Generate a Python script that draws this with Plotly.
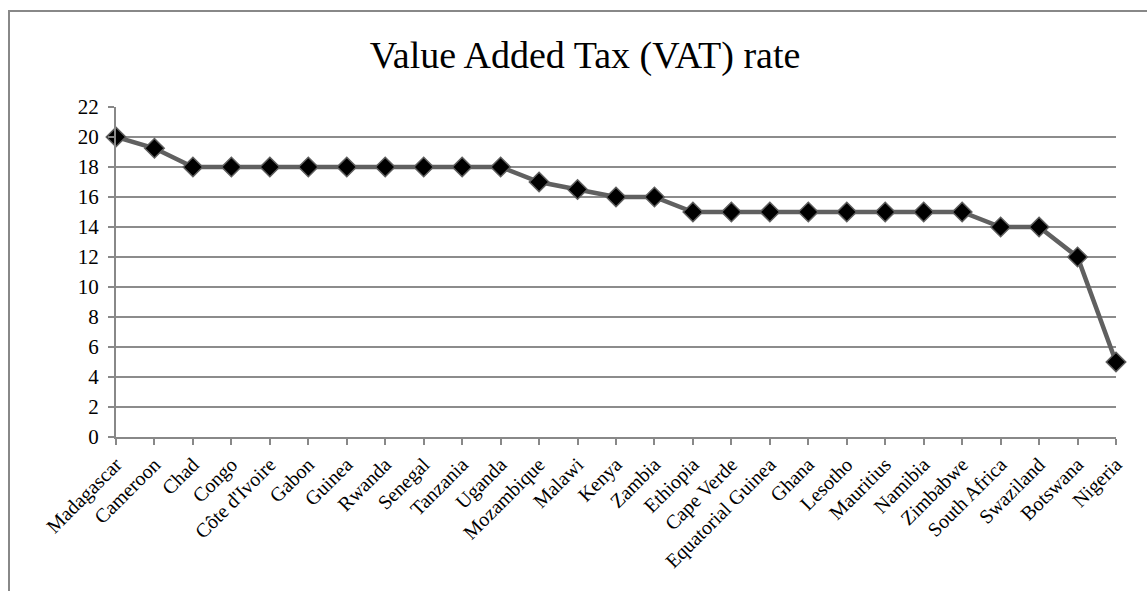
import plotly.graph_objects as go

countries = ["Madagascar", "Cameroon", "Chad", "Congo", "Côte d'Ivoire", "Gabon", "Guinea",
             "Rwanda", "Senegal", "Tanzania", "Uganda", "Mozambique", "Malawi", "Kenya",
             "Zambia", "Ethiopia", "Cape Verde", "Equatorial Guinea", "Ghana", "Lesotho",
             "Mauritius", "Namibia", "Zimbabwe", "South Africa", "Swaziland", "Botswana", "Nigeria"]
vat = [20, 19.25, 18, 18, 18, 18, 18, 18, 18, 18, 18, 17, 16.5, 16, 16, 15, 15, 15, 15, 15,
       15, 15, 15, 14, 14, 12, 5]
y_ticks = list(range(0, 23, 2))

W, H = 1147, 591
L, R, T, B = 116, 31, 107, 154
pw, ph = W - L - R, H - T - B

fig = go.Figure()
fig.add_trace(go.Scatter(
    x=list(range(len(countries))), y=vat, mode="lines+markers",
    line=dict(color="#606060", width=4.5),
    marker=dict(symbol="diamond", size=15, color="black", line=dict(color="#606060", width=1.5)),
    cliponaxis=False, hoverinfo="skip"))

font = "Liberation Serif"
fig.update_layout(
    width=W, height=H, margin=dict(l=L, r=R, t=T, b=B),
    paper_bgcolor="white", plot_bgcolor="white", showlegend=False,
    font=dict(family=font, size=20, color="black"),
    title=dict(text="Value Added Tax (VAT) rate", x=585 / W, xanchor="center",
               y=1 - 55 / H, yanchor="middle", font=dict(family=font, size=38, color="black")),
    xaxis=dict(range=[0, len(countries) - 1], tickmode="array",
               tickvals=list(range(len(countries))), ticktext=countries, tickangle=-45,
               showgrid=False, showline=True, linecolor="#888888", linewidth=2,
               ticks="outside", ticklen=6, tickcolor="#888888", tickwidth=2,
               tickfont=dict(family=font, size=20, color="black"), zeroline=False),
    yaxis=dict(range=[0, 22], tickmode="array", tickvals=y_ticks,
               showgrid=True, gridcolor="#8c8c8c", gridwidth=1.5,
               showline=True, linecolor="#888888", linewidth=2,
               ticks="outside", ticklen=6, tickcolor="#888888", tickwidth=2,
               ticklabelstandoff=5,
               tickfont=dict(family=font, size=21, color="black"), zeroline=False),
    shapes=[dict(type="rect", xref="paper", yref="paper",
                 x0=(9 - L) / pw, x1=(W + 20 - L) / pw,
                 y0=(H - B - (H + 20)) / ph, y1=(H - B - 11) / ph,
                 line=dict(color="#888888", width=2), layer="below")],
)
fig.write_html("out.html")
